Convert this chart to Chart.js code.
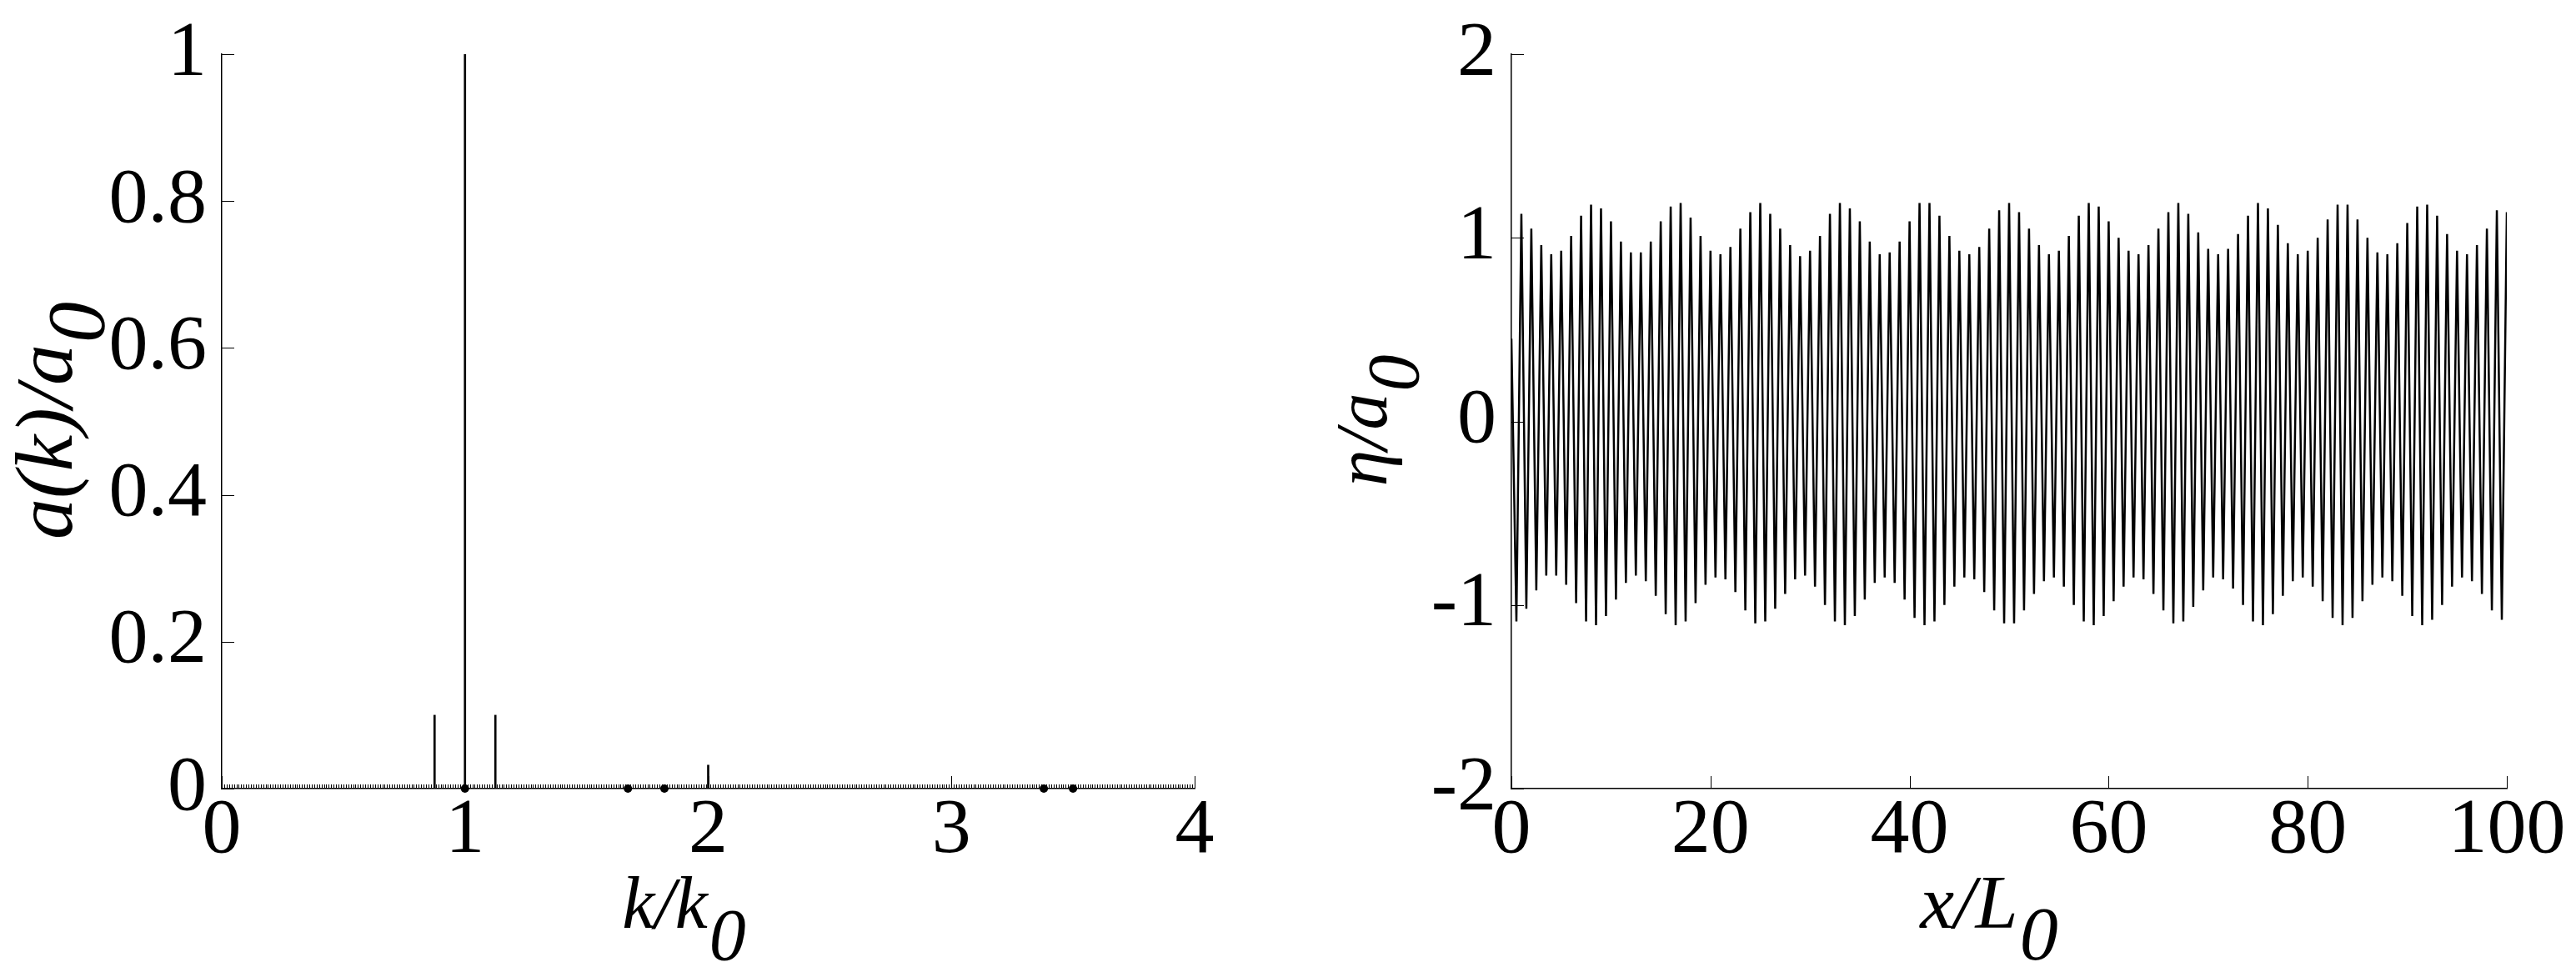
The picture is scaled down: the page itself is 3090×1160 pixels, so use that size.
<!DOCTYPE html>
<html>
<head>
<meta charset="utf-8">
<title>Spectrum and surface elevation</title>
<script src="https://cdn.jsdelivr.net/npm/chart.js@4.4.1/dist/chart.umd.min.js"></script>
<style>
    html, body { margin: 0; padding: 0; background: #fff; }
    #wrap { position: relative; width: 3090px; height: 1160px; }
    .panel { position: absolute; top: 0; width: 1545px; height: 1160px; }
</style>
</head>
<body>
<div id="wrap">
    <div class="panel" style="left:0"><canvas id="spectrumChart"></canvas></div>
    <div class="panel" style="left:1545px"><canvas id="surfaceChart"></canvas></div>
</div>
<script>
// ---- Left panel: amplitude spectrum a(k)/a0 ----
const spectrumK = [0.875, 1.0, 1.125, 2.0];
const spectrumAmp = [0.1, 1.0, 0.1, 0.032];
// small round marks sitting on the k axis
const dotK = [1.0, 1.67, 1.82, 3.38, 3.5];
const spectrumTicksX = [0, 1, 2, 3, 4];
const spectrumTicksY = [0, 0.2, 0.4, 0.6, 0.8, 1];

// ---- Right panel: surface elevation eta/a0 ----
const etaStart = 0.45; // value at x/L0 = 0
// crest values at x/L0 = 1, 2, ... 100
const etaCrests = [
    1.13, 1.05, 0.96, 0.91, 0.93, 1.01, 1.12, 1.18, 1.16, 1.09,
    0.98, 0.92, 0.92, 0.98, 1.09, 1.17, 1.19, 1.11, 1.01, 0.93,
    0.91, 0.95, 1.05, 1.14, 1.19, 1.13, 1.05, 0.96, 0.90, 0.93,
    1.01, 1.13, 1.19, 1.16, 1.09, 0.98, 0.91, 0.92, 0.98, 1.09,
    1.19, 1.19, 1.12, 1.01, 0.93, 0.91, 0.95, 1.05, 1.15, 1.19,
    1.14, 1.05, 0.96, 0.91, 0.93, 1.01, 1.12, 1.19, 1.17, 1.09,
    1.00, 0.93, 0.91, 0.96, 1.05, 1.14, 1.19, 1.13, 1.03, 0.94,
    0.91, 0.94, 1.02, 1.12, 1.19, 1.16, 1.07, 0.97, 0.91, 0.93,
    1.00, 1.10, 1.18, 1.18, 1.10, 1.00, 0.92, 0.91, 0.97, 1.08,
    1.17, 1.18, 1.12, 1.02, 0.93, 0.91, 0.96, 1.05, 1.15, 1.14
];
// trough values at x/L0 = 0.5, 1.5, ... 99.5
const etaTroughs = [
    -1.09, -1.02, -0.92, -0.84, -0.84, -0.89, -0.99, -1.09, -1.11, -1.06,
    -0.97, -0.88, -0.84, -0.87, -0.95, -1.05, -1.11, -1.09, -0.99, -0.89,
    -0.85, -0.86, -0.93, -1.03, -1.10, -1.09, -1.02, -0.94, -0.86, -0.84,
    -0.90, -1.00, -1.09, -1.11, -1.06, -0.97, -0.88, -0.85, -0.88, -0.97,
    -1.07, -1.11, -1.09, -1.00, -0.90, -0.85, -0.86, -0.93, -1.03, -1.10,
    -1.10, -1.03, -0.94, -0.87, -0.85, -0.90, -1.00, -1.09, -1.11, -1.06,
    -0.98, -0.90, -0.85, -0.86, -0.94, -1.03, -1.10, -1.09, -1.01, -0.92,
    -0.85, -0.86, -0.91, -1.00, -1.09, -1.11, -1.05, -0.95, -0.87, -0.85,
    -0.90, -0.98, -1.07, -1.11, -1.07, -0.98, -0.89, -0.85, -0.87, -0.95,
    -1.06, -1.11, -1.08, -1.00, -0.90, -0.85, -0.87, -0.94, -1.03, -1.08
];
const surfaceTicksX = [0, 20, 40, 60, 80, 100];
const surfaceTicksY = [-2, -1, 0, 1, 2];

const SERIF = '"Liberation Serif", "Times New Roman", serif';
const TICK_FONT = { family: SERIF, size: 94 };

// inward tick marks (MATLAB style) + optional dense minor marks on the x axis
const innerTicks = {
    id: 'innerTicks',
    afterDatasetsDraw(chart, args, opts) {
        const ctx = chart.ctx;
        const xs = chart.scales.x;
        const ys = chart.scales.y;
        const area = chart.chartArea;
        ctx.save();
        ctx.strokeStyle = '#000';
        ctx.lineWidth = 1;
        ctx.beginPath();
        xs.ticks.forEach(t => {
            const px = Math.round(xs.getPixelForValue(t.value)) + 0.5;
            ctx.moveTo(px, area.bottom);
            ctx.lineTo(px, area.bottom - opts.length);
        });
        ys.ticks.forEach(t => {
            const py = Math.round(ys.getPixelForValue(t.value)) + 0.5;
            ctx.moveTo(area.left, py);
            ctx.lineTo(area.left + opts.length, py);
        });
        if (opts.minorStep) {
            const n = Math.round((xs.max - xs.min) / opts.minorStep);
            for (let i = 0; i <= n; i++) {
                const px = Math.round(xs.getPixelForValue(xs.min + i * opts.minorStep)) + 0.5;
                ctx.moveTo(px, area.bottom);
                ctx.lineTo(px, area.bottom - opts.minorLength);
            }
        }
        ctx.stroke();
        ctx.restore();
    }
};

// axis titles with a lowered italic subscript
function drawSubText(ctx, main, sub, size, drop) {
    ctx.font = `italic ${size}px ${SERIF}`;
    const w1 = ctx.measureText(main).width;
    const w2 = ctx.measureText(sub).width;
    const start = -(w1 + w2) / 2;
    ctx.fillText(main, start, 0);
    ctx.fillText(sub, start + w1 + 2, drop);
}

const axisTitles = {
    id: 'axisTitles',
    afterDraw(chart, args, opts) {
        const ctx = chart.ctx;
        const area = chart.chartArea;
        ctx.save();
        ctx.fillStyle = '#000';
        ctx.textBaseline = 'alphabetic';
        ctx.textAlign = 'left';
        // x title
        ctx.save();
        ctx.translate((area.left + area.right) / 2 + opts.xShift, area.bottom + opts.xBase);
        drawSubText(ctx, opts.x[0], opts.x[1], opts.xSize, opts.drop);
        ctx.restore();
        // y title
        ctx.save();
        ctx.translate(area.left - opts.yBase, (area.top + area.bottom) / 2 + opts.yShift);
        ctx.rotate(-Math.PI / 2);
        drawSubText(ctx, opts.y[0], opts.y[1], opts.ySize, opts.drop);
        ctx.restore();
        ctx.restore();
    }
};

function axisOptions(min, max, tickValues, fitSize, isX) {
    return {
        type: 'linear',
        min: min,
        max: max,
        offset: false,
        afterBuildTicks: scale => {
            scale.ticks = tickValues.map(v => ({ value: v }));
        },
        afterFit: scale => {
            if (isX) scale.height = fitSize; else scale.width = fitSize;
            // keep the plot area exactly where the layout padding puts it
            scale.paddingTop = 0;
            scale.paddingBottom = 0;
            scale.paddingLeft = 0;
            scale.paddingRight = 0;
        },
        grid: { display: false, drawTicks: false },
        border: { display: true, color: '#000', width: 1.5 },
        ticks: {
            color: '#000',
            font: TICK_FONT,
            padding: isX ? -5 : 18,
            autoSkip: false,
            maxRotation: 0,
            callback: v => String(v)
        }
    };
}

Chart.register(innerTicks, axisTitles);

// Left: spectrum
new Chart(document.getElementById('spectrumChart'), {
    type: 'bar',
    data: {
        datasets: [
            {
                type: 'bar',
                data: spectrumK.map((k, i) => ({ x: k, y: spectrumAmp[i] })),
                backgroundColor: '#000',
                borderWidth: 0,
                barThickness: 2
            },
            {
                type: 'line',
                data: dotK.map(k => ({ x: k, y: 0 })),
                showLine: false,
                pointRadius: 5,
                pointBackgroundColor: '#000',
                pointBorderWidth: 0,
                clip: false
            }
        ]
    },
    options: {
        responsive: true,
        maintainAspectRatio: false,
        animation: false,
        events: [],
        layout: { padding: { left: 66, right: 112, top: 65, bottom: 64 } },
        plugins: {
            legend: { display: false },
            tooltip: { enabled: false },
            innerTicks: { length: 15, minorStep: 0.01, minorLength: 5 },
            axisTitles: {
                x: ['k/k', '0'], y: ['a(k)/a', '0'],
                xSize: 88, ySize: 98, drop: 38,
                xShift: -30, xBase: 167,
                yShift: 0, yBase: 180
            }
        },
        scales: {
            x: axisOptions(0, 4, spectrumTicksX, 150, true),
            y: axisOptions(0, 1, spectrumTicksY, 200, false)
        }
    }
});

// Right: surface elevation, crest/trough sequence
const surfacePoints = [{ x: 0, y: etaStart }];
etaCrests.forEach((c, i) => {
    surfacePoints.push({ x: i + 0.5, y: etaTroughs[i] });
    surfacePoints.push({ x: i + 1, y: c });
});

new Chart(document.getElementById('surfaceChart'), {
    type: 'line',
    data: {
        datasets: [{
            data: surfacePoints,
            borderColor: '#000',
            borderWidth: 2.5,
            pointRadius: 0,
            tension: 0,
            fill: false
        }]
    },
    options: {
        responsive: true,
        maintainAspectRatio: false,
        animation: false,
        events: [],
        layout: { padding: { left: 68, right: 83, top: 65, bottom: 64 } },
        plugins: {
            legend: { display: false },
            tooltip: { enabled: false },
            innerTicks: { length: 15 },
            axisTitles: {
                x: ['x/L', '0'], y: ['\u03b7/a', '0'],
                xSize: 92, ySize: 88, drop: 38,
                xShift: -25, xBase: 167,
                yShift: 0, yBase: 150
            }
        },
        scales: {
            x: axisOptions(0, 100, surfaceTicksX, 150, true),
            y: axisOptions(-2, 2, surfaceTicksY, 200, false)
        }
    }
});
</script>
</body>
</html>
